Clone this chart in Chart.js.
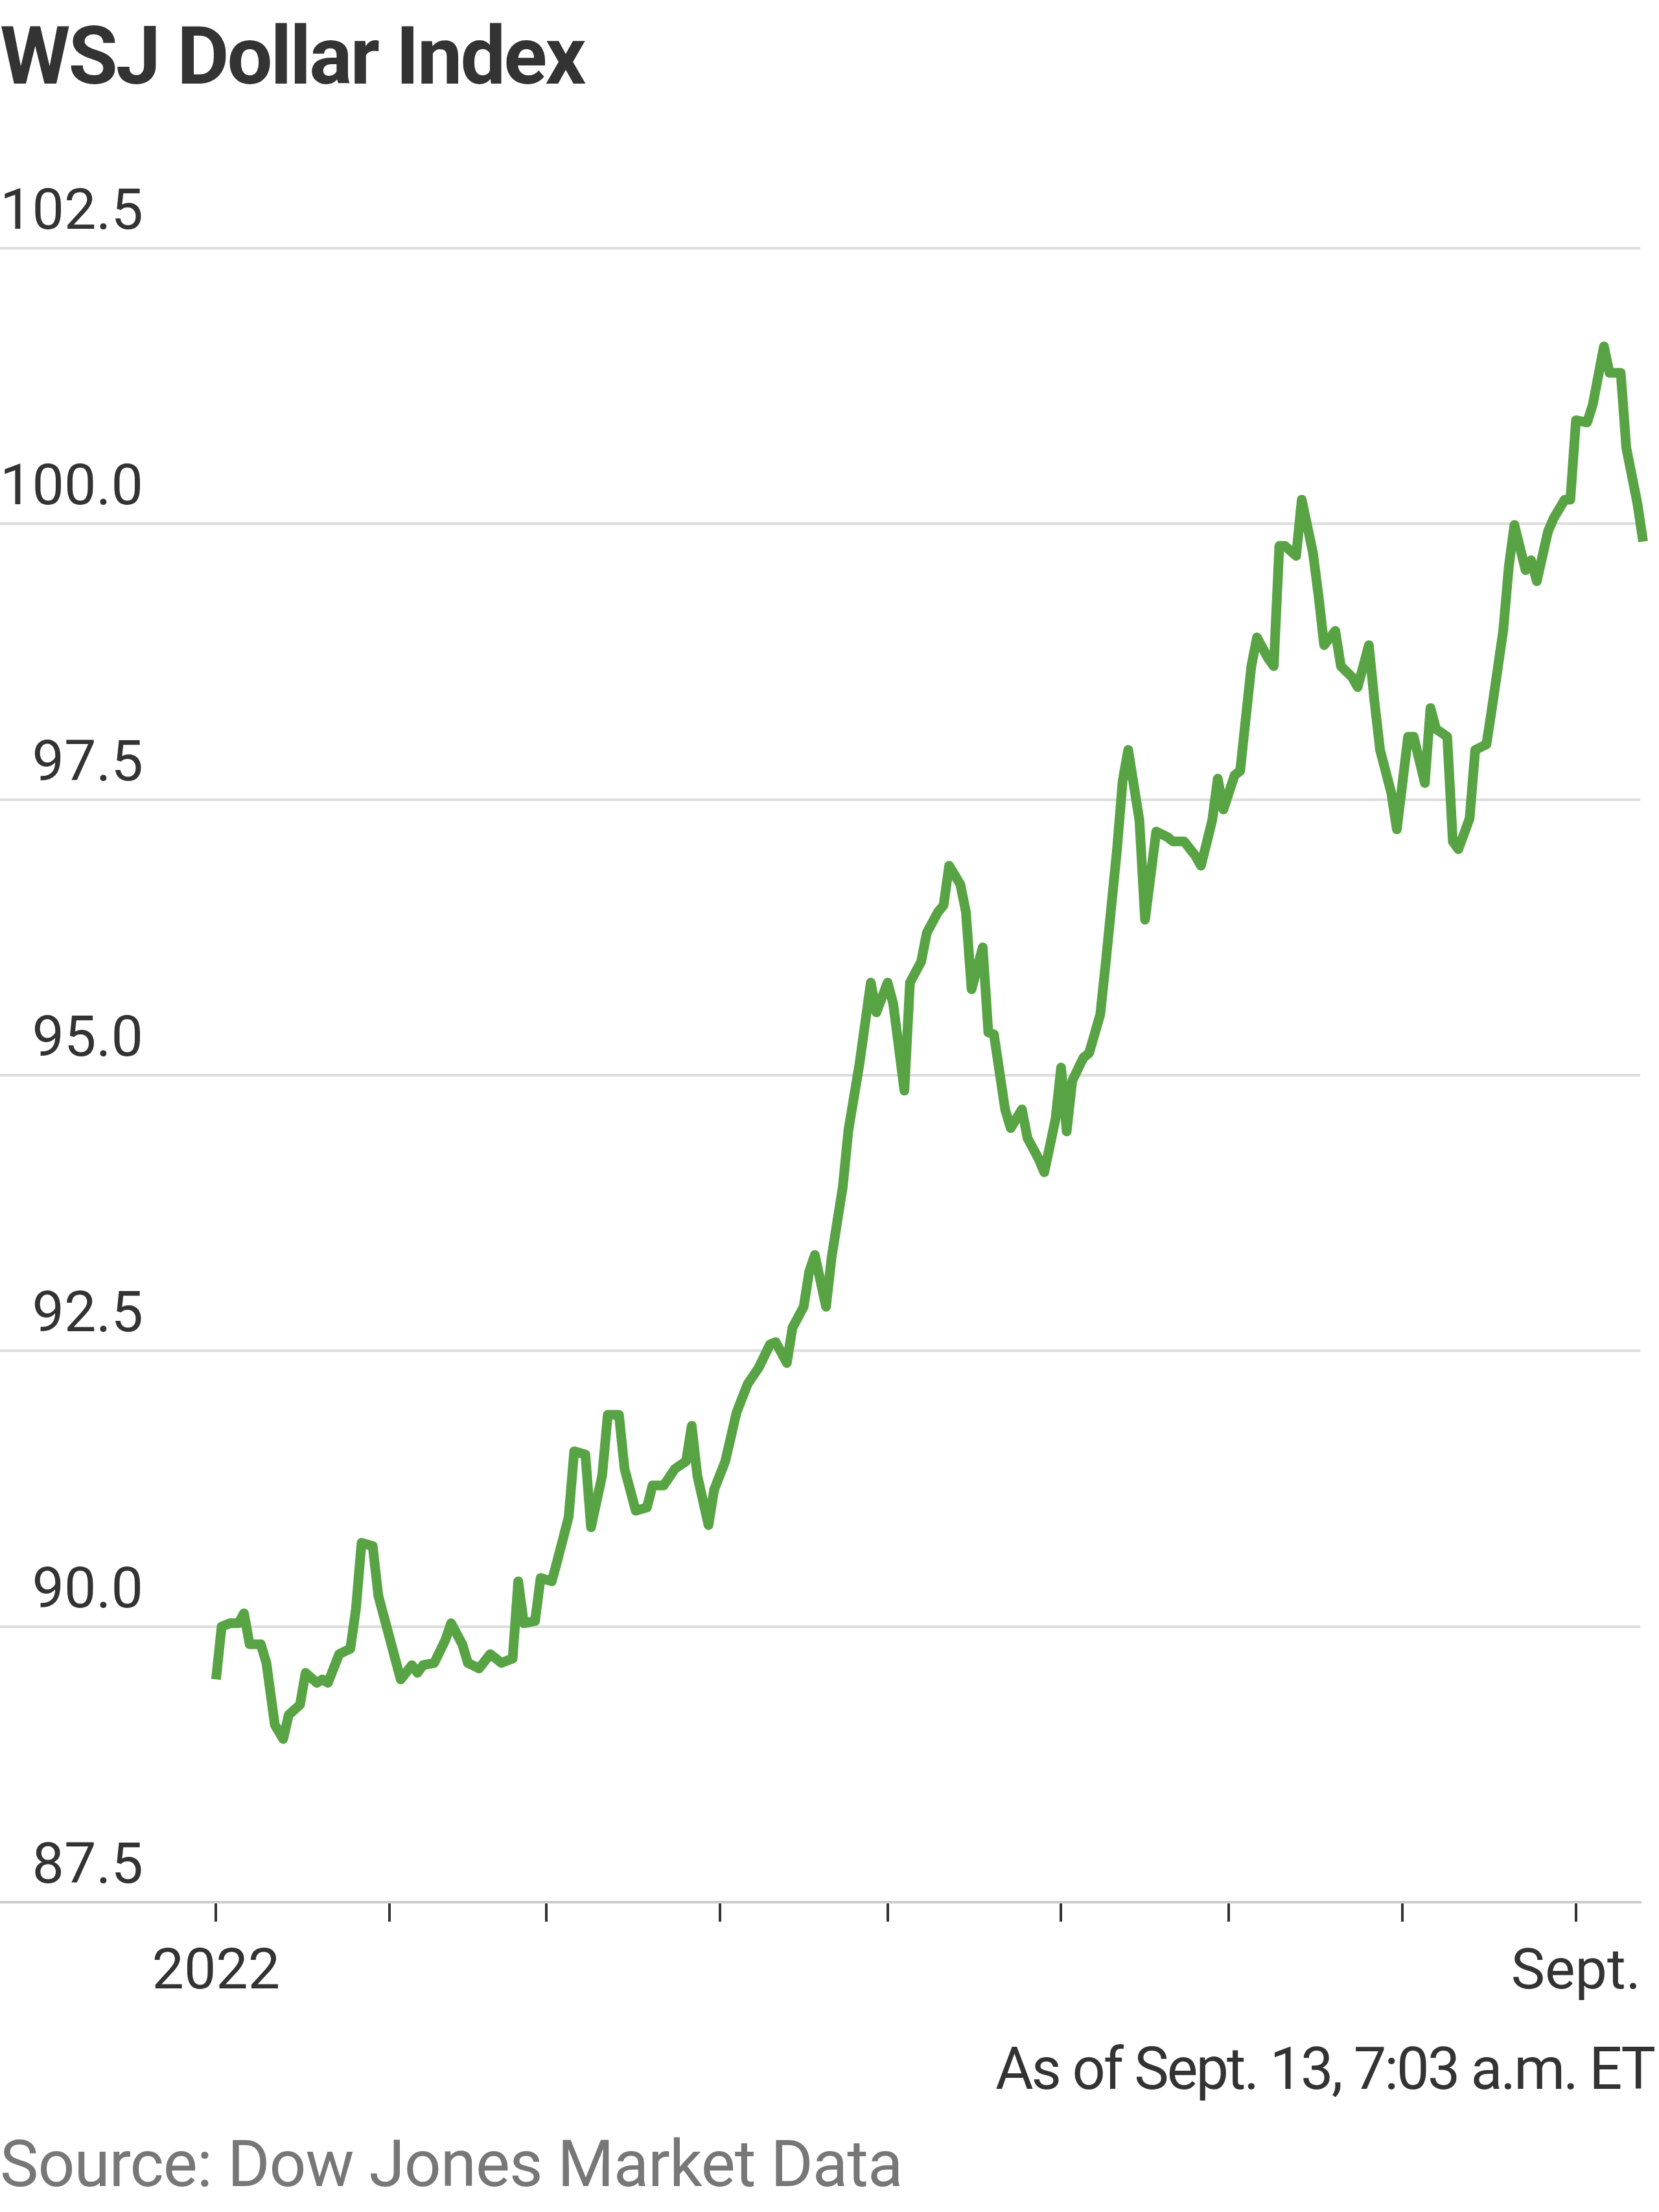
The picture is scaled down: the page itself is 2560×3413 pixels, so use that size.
<!DOCTYPE html>
<html style="overflow:hidden"><head><meta charset="utf-8">
<script src="https://cdn.jsdelivr.net/npm/chart.js@4"></script>
<style>
html,body{margin:0;overflow:hidden}
body{width:2560px;height:3413px;background:#fff;position:relative;font-family:"Roboto",sans-serif;}
#title{position:absolute;left:0;top:14px;font-family:"Roboto","Liberation Sans",sans-serif;font-weight:700;font-size:124px;color:#333;letter-spacing:-3px}
#wrap{position:absolute;left:0;top:240px;width:2560px;height:2900px}
#asof{position:absolute;right:8px;top:3140px;font-size:90px;color:#333;letter-spacing:-3px}
#src{position:absolute;left:0;top:3280px;font-size:100px;color:#777;letter-spacing:-1px}
</style></head><body>
<div id="title">WSJ Dollar Index</div>
<div id="wrap"><canvas id="c" width="2560" height="2900" style="width:2560px;height:2900px"></canvas></div>
<div id="asof">As of Sept. 13, 7:03 a.m. ET</div>
<div id="src">Source: Dow Jones Market Data</div>
<script>
// day offsets from Jan 1, 2022
const days=[0,1,2.5,4,5,6,8,9,10.5,12,13,15,16,18,19,20,22,24,25,26,28,29,31,32,33,35,36,37,39,41,42,44,45,47,49,51,53,54,55,57,58,60,61,63,64,66,67,69,70,72,73,75,77,78,80,82,84,85,86,88,89,91,93,95,97,99,100,102,103,105,106,107,109,110,112,113,115,117,118,120,121,123,124,126,127,129,130,131,133,134,135,137,138,139,141,142,144,145,147,148,150,151,152,153,155,156,158,159,161,162,163,165,166,168,170,171,173,175,176,178,179,180,182,183,185,186,188,189,190,191,193,194,196,197,198,200,201,203,204,206,207,208,210,211,213,214,216,217,218,220,221,222,224,225,227,228,230,231,232,234,235,236,238,239,241,242,243,245,246,248,249,251,252,254,255];
const values=[89.52,90.0,90.03,90.03,90.12,89.84,89.84,89.67,89.11,88.98,89.20,89.29,89.58,89.49,89.52,89.49,89.75,89.80,90.16,90.76,90.73,90.28,89.90,89.71,89.52,89.65,89.58,89.65,89.67,89.88,90.03,89.84,89.67,89.62,89.75,89.67,89.71,90.41,90.03,90.05,90.44,90.41,90.60,90.99,91.59,91.56,90.90,91.37,91.92,91.92,91.43,91.05,91.08,91.28,91.28,91.43,91.50,91.82,91.37,90.92,91.24,91.50,91.94,92.20,92.35,92.56,92.58,92.39,92.71,92.90,93.22,93.37,92.90,93.35,93.99,94.50,95.11,95.84,95.57,95.84,95.65,94.86,95.84,96.03,96.29,96.48,96.54,96.90,96.73,96.48,95.78,96.16,95.39,95.37,94.69,94.52,94.69,94.43,94.24,94.12,94.60,95.07,94.49,94.95,95.16,95.20,95.55,96.03,97.05,97.67,97.95,97.31,96.41,97.21,97.16,97.12,97.12,96.99,96.90,97.31,97.69,97.41,97.72,97.76,98.71,98.97,98.78,98.71,99.80,99.80,99.71,100.22,99.74,99.35,98.90,99.03,98.71,98.61,98.52,98.90,98.39,97.95,97.56,97.23,98.07,98.07,97.65,98.33,98.14,98.07,97.12,97.05,97.33,97.95,98.00,98.33,99.03,99.61,99.99,99.58,99.67,99.48,99.93,100.05,100.22,100.22,100.94,100.92,101.08,101.61,101.37,101.37,100.69,100.18,99.84];
const yTicks=[87.5,90.0,92.5,95.0,97.5,100.0,102.5];
const monthStarts=[0,31,59,90,120,151,181,212,243];
const monthLabels={0:"2022",243:"Sept."};
const pts=days.map((d,i)=>({x:d,y:values[i]}));
new Chart(document.getElementById('c'),{
 type:'line',
 data:{datasets:[{data:pts,borderColor:'#58a444',borderWidth:15,pointRadius:0,tension:0,borderJoinStyle:'round',clip:false}]},
 options:{responsive:false,animation:false,devicePixelRatio:1,
  layout:{padding:{top:143,left:0,right:0,bottom:0}},
  plugins:{legend:{display:false},tooltip:{enabled:false}},
  scales:{
   x:{type:'linear',min:-38.6,max:254.5,offset:false,
     afterBuildTicks:s=>{s.ticks=monthStarts.map(v=>({value:v}));},
     afterFit:s=>{s.height=205;},
     grid:{drawOnChartArea:false,drawTicks:true,tickLength:30,color:'#333',lineWidth:4},
     border:{display:true,color:'#ccc',width:4},
     ticks:{autoSkip:false,maxRotation:0,padding:28,color:'#333',font:{family:'Roboto, sans-serif',size:88},callback:v=>monthLabels[v]||''}},
   y:{min:87.5,max:102.5,
     afterBuildTicks:s=>{s.ticks=yTicks.map(v=>({value:v}));},
     afterFit:s=>{s.width=0;},
     grid:{color:'#ddd',lineWidth:4,drawTicks:false},
     border:{display:false},
     ticks:{mirror:true,padding:0,labelOffset:-52,color:'#333',font:{family:'Roboto, sans-serif',size:88},
       callback:v=>{const s=v.toFixed(1);return s.length<5?'\u2007'+s:s;}}}
  }}
});
</script>
</body></html>
